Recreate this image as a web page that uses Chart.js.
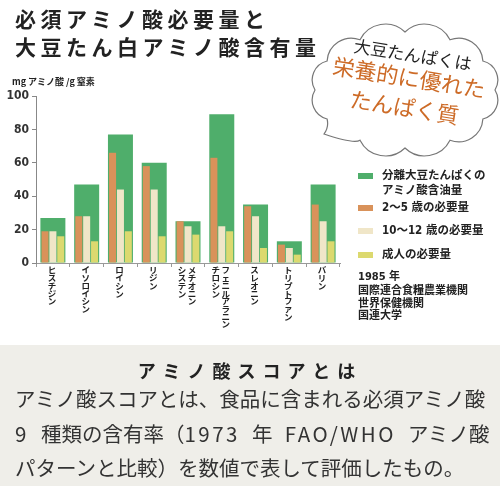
<!DOCTYPE html>
<html lang="ja">
<head>
<meta charset="utf-8">
<script src="https://cdn.jsdelivr.net/npm/chart.js@4.4.0/dist/chart.umd.min.js"></script>
<style>
body { margin: 0; }
#page { position: relative; width: 500px; height: 486px; background: #fff; overflow: hidden;
        font-family: "Noto Sans CJK JP", sans-serif; color: #222; }
#page div { position: absolute; white-space: nowrap; }
.title { left: 15px; font-size: 21px; font-weight: bold; letter-spacing: 4.5px; line-height: 28px; }
.legend-row { left: 358px; font-size: 11.5px; font-weight: bold; line-height: 15px; font-family: "DejaVu Sans Condensed", "Noto Sans CJK JP", sans-serif; }
.legend-row span.box { display: inline-block; width: 15px; height: 6px; margin-right: 9px; vertical-align: middle; }
.source { left: 358px; font-size: 11px; font-weight: bold; line-height: 13px; font-family: "DejaVu Sans Condensed", "Noto Sans CJK JP", sans-serif; }
.body-line { left: 15px; font-size: 20.5px; line-height: 34px; color: #333; }
.lat { letter-spacing: 2.5px; word-spacing: 5px; }
#cloudText { left: 319px; top: 28px; width: 180px; height: 100px; transform: rotate(9deg); }
#cloudText div { left: 0; width: 180px; text-align: center; }
</style>
</head>
<body>
<div id="page">
  <div style="left:0;top:345px;width:500px;height:141px;background:#efeee9;"></div>
  <svg id="cloud" width="500" height="486" style="position:absolute;left:0;top:0;"></svg>
  <canvas id="aminoChart" width="500" height="486" style="position:absolute;left:0;top:0;"></canvas>

  <div class="title" style="top:4px;">必須アミノ酸必要量と</div>
  <div class="title" style="top:32px;">大豆たん白アミノ酸含有量</div>

  <div id="cloudText">
    <div style="top:15px;font-size:17px;line-height:22px;">大豆たんぱくは</div>
    <div style="top:34px;font-size:22px;line-height:28px;color:#cd6b27;">栄養的に優れた</div>
    <div style="top:64px;font-size:22px;line-height:28px;color:#cd6b27;">たんぱく質</div>
  </div>

  <div style="left:12px;top:76px;font-size:9px;font-weight:bold;line-height:12px;">mg アミノ酸 /g 窒素</div>

  <div class="source" style="top:270px;">1985 年</div>
  <div class="source" style="top:284px;">国際連合食糧農業機関</div>
  <div class="source" style="top:297px;">世界保健機関</div>
  <div class="source" style="top:309px;">国連大学</div>

  <div style="left:0;top:356px;width:500px;text-align:center;font-size:18px;font-weight:bold;letter-spacing:7px;line-height:28px;">アミノ酸スコアとは</div>
  <div class="body-line" style="top:381px;">アミノ酸スコアとは、食品に含まれる必須アミノ酸</div>
  <div class="body-line" style="top:416px;"><span class="lat">9 </span>種類の含有率（<span class="lat">1973 </span>年<span class="lat"> FAO/WHO </span>アミノ酸</div>
  <div class="body-line" style="top:450px;">パターンと比較）を数値で表して評価したもの。</div>
</div>

<script>
// categories (two entries = two vertical columns, first one on the right)
const aminoLabels = ['ヒスチジン', 'イソロイシン', 'ロイシン', 'リジン', ['メチオニン', 'システン'],
    ['フェニルアラニン', 'チロシン'], 'スレオニン', 'トリプトファン', 'バリン'];

// mg amino acid / g nitrogen
const soyIsolate = [27, 47, 77, 60, 25, 89, 35, 13, 47];
const childNeed = [19, 28, 66, 58, 25, 63, 34, 11, 35];
const teenNeed = [19, 28, 44, 44, 22, 22, 28, 9, 25];
const adultNeed = [16, 13, 19, 16, 17, 19, 9, 5, 13];

const seriesNames = [['分離大豆たんぱくの', 'アミノ酸含油量'], ['2～5 歳の必要量'], ['10～12 歳の必要量'], ['成人の必要量']];
const seriesColors = ['#4fae6b', '#d9925a', '#f0e6c8', '#dcd96f'];

// html legend
const legendTops = [168, 200, 223, 247];
seriesNames.forEach((lines, i) => {
    let row = document.createElement('div');
    row.className = 'legend-row';
    row.style.top = legendTops[i] + 'px';
    row.innerHTML = '<span class="box" style="background:' + seriesColors[i] + '"></span>' + lines[0] +
        (lines[1] ? '<br><span style="margin-left:24px">' + lines[1] + '</span>' : '');
    document.getElementById('page').appendChild(row);
});

// speech cloud
function drawCloud() {
    const cx = 405, cy = 90, rx = 90, ry = 58;
    const steps = 12;
    let pts = [];
    for (let k = 0; k <= steps; k++) {
        let a = (k / steps) * Math.PI * 2 - Math.PI / 2;
        pts.push([cx + rx * Math.cos(a), cy + ry * Math.sin(a)]);
    }
    let d = 'M' + pts[0][0].toFixed(1) + ' ' + pts[0][1].toFixed(1);
    for (let k = 1; k < pts.length; k++) {
        let [x0, y0] = pts[k - 1];
        let [x1, y1] = pts[k];
        if (k === 8) {
            // tail towards lower left
            d += ' Q' + (x0 - 6).toFixed(1) + ' ' + (y0 + 4).toFixed(1) + ' 324 134';
            d += ' Q' + (x1 + 2).toFixed(1) + ' ' + (y1 + 8).toFixed(1) + ' ' + x1.toFixed(1) + ' ' + y1.toFixed(1);
            continue;
        }
        let r = Math.hypot(x1 - x0, y1 - y0) * 0.62;
        d += ' A' + r.toFixed(1) + ' ' + r.toFixed(1) + ' 0 0 1 ' + x1.toFixed(1) + ' ' + y1.toFixed(1);
    }
    const path = document.createElementNS('http://www.w3.org/2000/svg', 'path');
    path.setAttribute('d', d + ' Z');
    path.setAttribute('fill', '#fff');
    path.setAttribute('stroke', '#777');
    path.setAttribute('stroke-width', '1.2');
    document.getElementById('cloud').appendChild(path);
}
drawCloud();

// vertical (tategaki) category labels
const verticalLabels = {
    id: 'verticalLabels',
    afterDraw(chart) {
        const ctx = chart.ctx;
        const xScale = chart.scales.x;
        ctx.save();
        ctx.font = 'bold 8.5px "Noto Sans CJK JP"';
        ctx.fillStyle = '#222';
        ctx.textAlign = 'center';
        ctx.textBaseline = 'top';
        aminoLabels.forEach((label, i) => {
            const cols = Array.isArray(label) ? label : [label];
            const center = xScale.getPixelForValue(i);
            cols.forEach((col, j) => {
                const colX = center + ((cols.length - 1) / 2 - j) * 10 - 1;
                [...col].forEach((ch, k) => ctx.fillText(ch, colX, xScale.top + 3 + k * 7.7));
            });
        });
        ctx.restore();
    }
};

const smallBar = { categoryPercentage: 0.7, barPercentage: 0.89, order: 0 };

new Chart(document.getElementById('aminoChart'), {
    type: 'bar',
    data: {
        labels: aminoLabels,
        datasets: [
            { label: 'soy', data: soyIsolate, backgroundColor: seriesColors[0], grouped: false,
              categoryPercentage: 0.74, barPercentage: 1, order: 1 },
            Object.assign({ label: '2-5', data: childNeed, backgroundColor: seriesColors[1] }, smallBar),
            Object.assign({ label: '10-12', data: teenNeed, backgroundColor: seriesColors[2] }, smallBar),
            Object.assign({ label: 'adult', data: adultNeed, backgroundColor: seriesColors[3] }, smallBar)
        ]
    },
    options: {
        responsive: false,
        animation: false,
        devicePixelRatio: 1,
        layout: { padding: { left: 0, top: 96, right: 160, bottom: 0 } },
        plugins: { legend: { display: false }, tooltip: { enabled: false } },
        scales: {
            x: {
                offset: true,
                afterFit: (scale) => { scale.height = 486 - 263; },
                grid: { display: true, drawOnChartArea: false, tickLength: 4, color: '#999', offset: true },
                border: { color: '#999' },
                ticks: { display: false }
            },
            y: {
                min: 0,
                max: 100,
                afterFit: (scale) => { scale.width = 36; },
                grid: { drawOnChartArea: false, tickLength: 4, color: '#888' },
                border: { color: '#888' },
                ticks: {
                    stepSize: 20,
                    padding: 3,
                    color: '#333',
                    font: { family: '"DejaVu Sans Condensed", "Liberation Sans Narrow", sans-serif', size: 12, weight: 'bold' }
                }
            }
        }
    },
    plugins: [verticalLabels]
});
</script>
</body>
</html>
